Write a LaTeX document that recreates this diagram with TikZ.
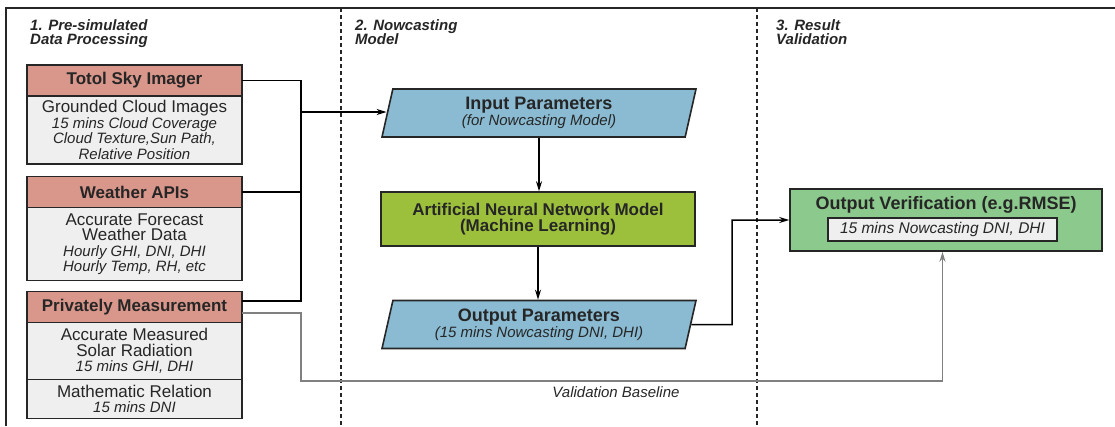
\documentclass[tikz,border=0pt]{standalone}
\usepackage{fontspec}
\setmainfont{Liberation Sans}
\usetikzlibrary{arrows.meta,positioning,shapes.geometric}

\definecolor{hdrred}{RGB}{217,150,138}
\definecolor{bodygray}{RGB}{239,239,239}
\definecolor{parblue}{RGB}{138,187,210}
\definecolor{annolive}{RGB}{156,192,60}
\definecolor{vergreen}{RGB}{140,201,140}
\definecolor{inkgray}{RGB}{38,38,38}
\definecolor{basegray}{RGB}{128,128,128}

\newcommand\bigbf{\fontsize{17}{16}\selectfont\bfseries}
\newcommand\smallit{\fontsize{15}{15}\selectfont\itshape}

\tikzset{
  hdr/.style={draw=inkgray, line width=1.6pt, fill=hdrred, text=inkgray,
    minimum width=215pt, minimum height=31pt, inner sep=0pt, outer sep=0pt,
    font=\bigbf},
  bodybox/.style={draw=inkgray, line width=1.6pt, fill=bodygray, text=inkgray,
    minimum width=215pt, inner sep=0pt, outer sep=0pt, align=center,
    font=\fontsize{17}{15.5}\selectfont},
  para/.style={trapezium, trapezium left angle=71, trapezium right angle=109,
    trapezium stretches body, draw=inkgray, line width=1.6pt, fill=parblue,
    minimum width=314pt, minimum height=48pt, inner sep=0pt, text=inkgray,
    align=center, font=\fontsize{18}{16}\selectfont\bfseries},
  annbox/.style={draw=inkgray, line width=1.6pt, fill=annolive, text=inkgray,
    minimum width=314pt, minimum height=54pt, inner sep=0pt, align=center,
    font=\fontsize{17}{16}\selectfont\bfseries},
  verbox/.style={draw=inkgray, line width=1.6pt, fill=vergreen,
    minimum width=312pt, minimum height=62pt, inner sep=0pt},
  inbox/.style={draw=inkgray, line width=1.3pt, fill=bodygray, text=inkgray,
    minimum width=229pt, minimum height=23pt, inner sep=0pt,
    font=\fontsize{15.5}{15}\selectfont\itshape},
  phase/.style={anchor=north west, inner sep=0pt, align=left, text=inkgray,
    font=\fontsize{15}{14}\selectfont\bfseries\itshape},
  wire/.style={draw=black, line width=1.5pt},
  base/.style={draw=basegray, line width=1.5pt},
  >={Stealth[length=10pt,width=6pt]}
}

\begin{document}
\begin{tikzpicture}[x=1pt,y=-1pt]

  \useasboundingbox (0,0) rectangle (1115,426);

  % frame and phase separators
  \draw[line width=2.4pt, draw=inkgray] (6,426) -- (6,8) -- (1115,8);
  \foreach \x in {341,757}
    \draw[line width=1.3pt, draw=inkgray, dash pattern=on 4pt off 3pt] (\x,8) -- (\x,426);

  \node[phase] (ph1) at (30,19) {1. Pre-simulated\\Data Processing};
  \node[phase] (ph2) at (355,19) {2. Nowcasting\\Model};
  \node[phase] (ph3) at (776,19) {3. Result\\Validation};

  % data sources
  \node[hdr] (tsh) at (134.5,80.5) {Totol Sky Imager};
  \node[bodybox, minimum height=68pt, below=0pt of tsh] (tsb)
    {Grounded Cloud Images\\ {\smallit 15 mins Cloud Coverage}\\
     {\smallit Cloud Texture,Sun Path,}\\ {\smallit Relative Position}};

  \node[hdr] (wah) at (134.5,192) {Weather APIs};
  \node[bodybox, minimum height=73pt, below=0pt of wah] (wab)
    {Accurate Forecast\\ Weather Data\\ {\smallit Hourly GHI, DNI, DHI}\\
     {\smallit Hourly Temp, RH, etc}};

  \node[hdr] (pmh) at (134.5,307) {Privately Measurement};
  \node[bodybox, minimum height=57pt, below=0pt of pmh] (pmb)
    {Accurate Measured\\ Solar Radiation\\ {\smallit 15 mins GHI, DHI}};
  \node[bodybox, minimum height=39pt, below=0pt of pmb] (pmr)
    {Mathematic Relation\\ {\smallit 15 mins DNI}};

  % nowcasting model
  \node[para] (inp) at (539,113)
    {Input Parameters\\ {\smallit\mdseries (for Nowcasting Model)}};
  \node[annbox] (ann) at (538,219)
    {Artificial Neural Network Model\\ (Machine Learning)};
  \node[para] (outp) at (539,324.5)
    {Output Parameters\\ {\smallit\mdseries (15 mins Nowcasting DNI, DHI)}};

  % validation
  \node[verbox] (ov) at (946,220) {};
  \node[inner sep=0pt, text=inkgray, font=\fontsize{18}{18}\selectfont\bfseries]
    (ovt) at (946,205) {Output Verification (e.g.RMSE)};
  \node[inbox] (ovd) at (942.5,229.5) {15 mins Nowcasting DNI, DHI};

  \node[inner sep=0pt, text=inkgray, font=\fontsize{15}{15}\selectfont\itshape]
    (vb) at (616,392) {Validation Baseline};

  % connectors
  \coordinate (bus) at (301,112);
  \coordinate (pmtop) at ([yshift=6pt]pmh.east);
  \coordinate (pmlow) at ([yshift=-6pt]pmh.east);
  \coordinate (bend) at (301,381);
  \coordinate (elb) at (732,324.5);

  \draw[wire] (tsh.east) -| (bus |- pmtop) -- (pmtop);
  \draw[wire] (wah.east) -- (wah.east -| bus);
  \draw[wire,->] (bus) -- (bus -| inp.west);

  \draw[wire,->] (inp.south) -- (inp.south |- ann.north);
  \draw[wire,->] (ann.south) -- (ann.south |- outp.north);
  \draw[wire,->] (outp.east) -- (elb) |- (ov.west);

  \draw[base,->] (pmlow) -| (bend) -| (ovd.south |- ov.south);

\end{tikzpicture}
\end{document}
